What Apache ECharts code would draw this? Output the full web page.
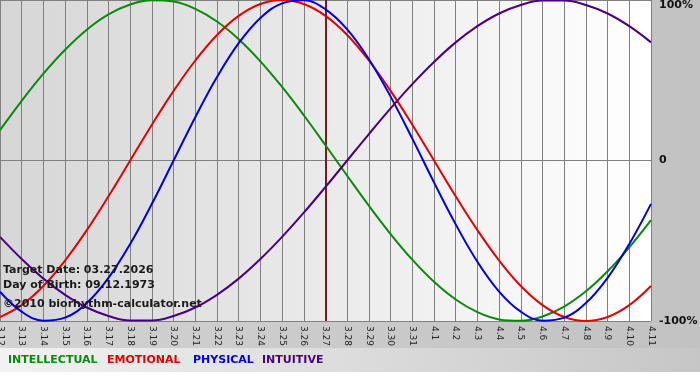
<!DOCTYPE html>
<html>
<head>
<meta charset="utf-8">
<script src="https://cdn.jsdelivr.net/npm/echarts@6/dist/echarts.min.js"></script>
<style>
html,body{margin:0;padding:0;background:#ffffff;}
#c{width:700px;height:380px;}
</style>
</head>
<body>
<div id="c"></div>
<script>
var categories = ['3.12','3.13','3.14','3.15','3.16','3.17','3.18','3.19','3.20','3.21','3.22','3.23','3.24','3.25','3.26','3.27','3.28','3.29','3.30','3.31','4.1','4.2','4.3','4.4','4.5','4.6','4.7','4.8','4.9','4.10','4.11'];
var intellectual = [18.9,37.2,54.1,69.0,81.5,91.0,97.2,99.9,99.0,94.5,86.6,75.6,61.8,45.8,28.2,9.5,-9.5,-28.2,-45.8,-61.8,-75.6,-86.6,-94.5,-99.0,-99.9,-97.2,-91.0,-81.5,-69.0,-54.1,-37.2];
var emotional = [-97.5,-90.1,-78.2,-62.3,-43.4,-22.3,0,22.3,43.4,62.3,78.2,90.1,97.5,100,97.5,90.1,78.2,62.3,43.4,22.3,0,-22.3,-43.4,-62.3,-78.2,-90.1,-97.5,-100,-97.5,-90.1,-78.2];
var physical = [-81.7,-94.2,-99.8,-97.9,-88.8,-73.1,-52.0,-27.0,0,27.0,52.0,73.1,88.8,97.9,99.8,94.2,81.7,63.1,39.8,13.6,-13.6,-39.8,-63.1,-81.7,-94.2,-99.8,-97.9,-88.8,-73.1,-52.0,-27.0];
var intuitive = [-47.6,-61.4,-73.6,-83.7,-91.6,-96.9,-99.7,-99.7,-96.9,-91.6,-83.7,-73.6,-61.4,-47.6,-32.5,-16.5,0,16.5,32.5,47.6,61.4,73.6,83.7,91.6,96.9,99.7,99.7,96.9,91.6,83.7,73.6];
var targetDay = '3.27';
var yTickLabels = {'100':'100%','0':'0','-100':'-100%'};
var infoLines = ['Target Date: 03.27.2026','Day of Birth: 09.12.1973','\u00a92010 biorhythm-calculator.net'];
var legendNames = ['INTELLECTUAL','EMOTIONAL','PHYSICAL','INTUITIVE'];

var FONT = '"DejaVu Sans", Verdana, sans-serif';
var colors = ['#0a8a0a','#e60000','#0000e0','#4b0082'];
var legendX = [8,107,193,262];
var infoY = [272,287,306];

var chart = echarts.init(document.getElementById('c'), null, {renderer:'canvas'});

var graphics = [
  {type:'rect', z:-10, silent:true, shape:{x:0,y:0,width:700,height:372},
   style:{fill:new echarts.graphic.LinearGradient(0,0,1,0,[{offset:0,color:'#d2d2d2'},{offset:1,color:'#c2c2c2'}])}},
  {type:'rect', z:-9, silent:true, shape:{x:0,y:348,width:700,height:24},
   style:{fill:new echarts.graphic.LinearGradient(0,0,1,0,[{offset:0,color:'#f2f2f2'},{offset:1,color:'#c6c6c6'}])}}
];
infoLines.forEach(function(t,i){
  graphics.push({type:'text', z:100, silent:true, left:3, top:infoY[i]-7,
    style:{text:t, font:'bold 11px '+FONT, fill:'#1a1a1a'}});
});
legendNames.forEach(function(t,i){
  graphics.push({type:'text', z:100, silent:true, left:legendX[i], top:355,
    style:{text:t, font:'bold 11px '+FONT, fill:colors[i]}});
});

function mk(name, data, color, extra){
  var s = {name:name, type:'line', data:data, smooth:0.4, showSymbol:false, symbol:'none',
    lineStyle:{color:color, width:2}, itemStyle:{color:color}, z:3, animation:false};
  if(extra) for(var k in extra) s[k]=extra[k];
  return s;
}

var option = {
  animation:false,
  grid:{left:0, right:49, top:0, bottom:59, show:true, borderWidth:0, containLabel:false, outerBoundsMode:'none',
    backgroundColor:new echarts.graphic.LinearGradient(0,0,1,0,[{offset:0,color:'#d6d6d6'},{offset:1,color:'#ffffff'}])},
  xAxis:{type:'category', data:categories, boundaryGap:false,
    axisLine:{show:true, lineStyle:{color:'#808080', width:1}},
    axisTick:{show:true, length:4, lineStyle:{color:'#808080'}},
    axisLabel:{rotate:-90, fontSize:9, fontFamily:FONT, color:'#222', margin:5, interval:0, showMinLabel:true, showMaxLabel:true},
    splitLine:{show:true, lineStyle:{color:'#808080', width:1}}},
  yAxis:{type:'value', position:'right', min:-100, max:100, interval:100,
    axisLine:{show:false}, axisTick:{show:false},
    axisLabel:{fontSize:11, fontWeight:'bold', fontFamily:FONT, color:'#111', margin:8,
      verticalAlignMaxLabel:'top',
      formatter:function(v){return yTickLabels[String(v)];}},
    splitLine:{show:true, lineStyle:{color:'#808080', width:1}}},
  graphic:graphics,
  series:[
    mk('INTELLECTUAL', intellectual, colors[0], {markLine:{silent:true, symbol:['none','none'], label:{show:false},
      lineStyle:{color:'#7a1a1a', width:2, type:'solid'}, data:[{xAxis:targetDay}], z:2}}),
    mk('EMOTIONAL', emotional, colors[1]),
    mk('PHYSICAL', physical, colors[2]),
    mk('INTUITIVE', intuitive, colors[3])
  ]
};
chart.setOption(option);
</script>
</body>
</html>
